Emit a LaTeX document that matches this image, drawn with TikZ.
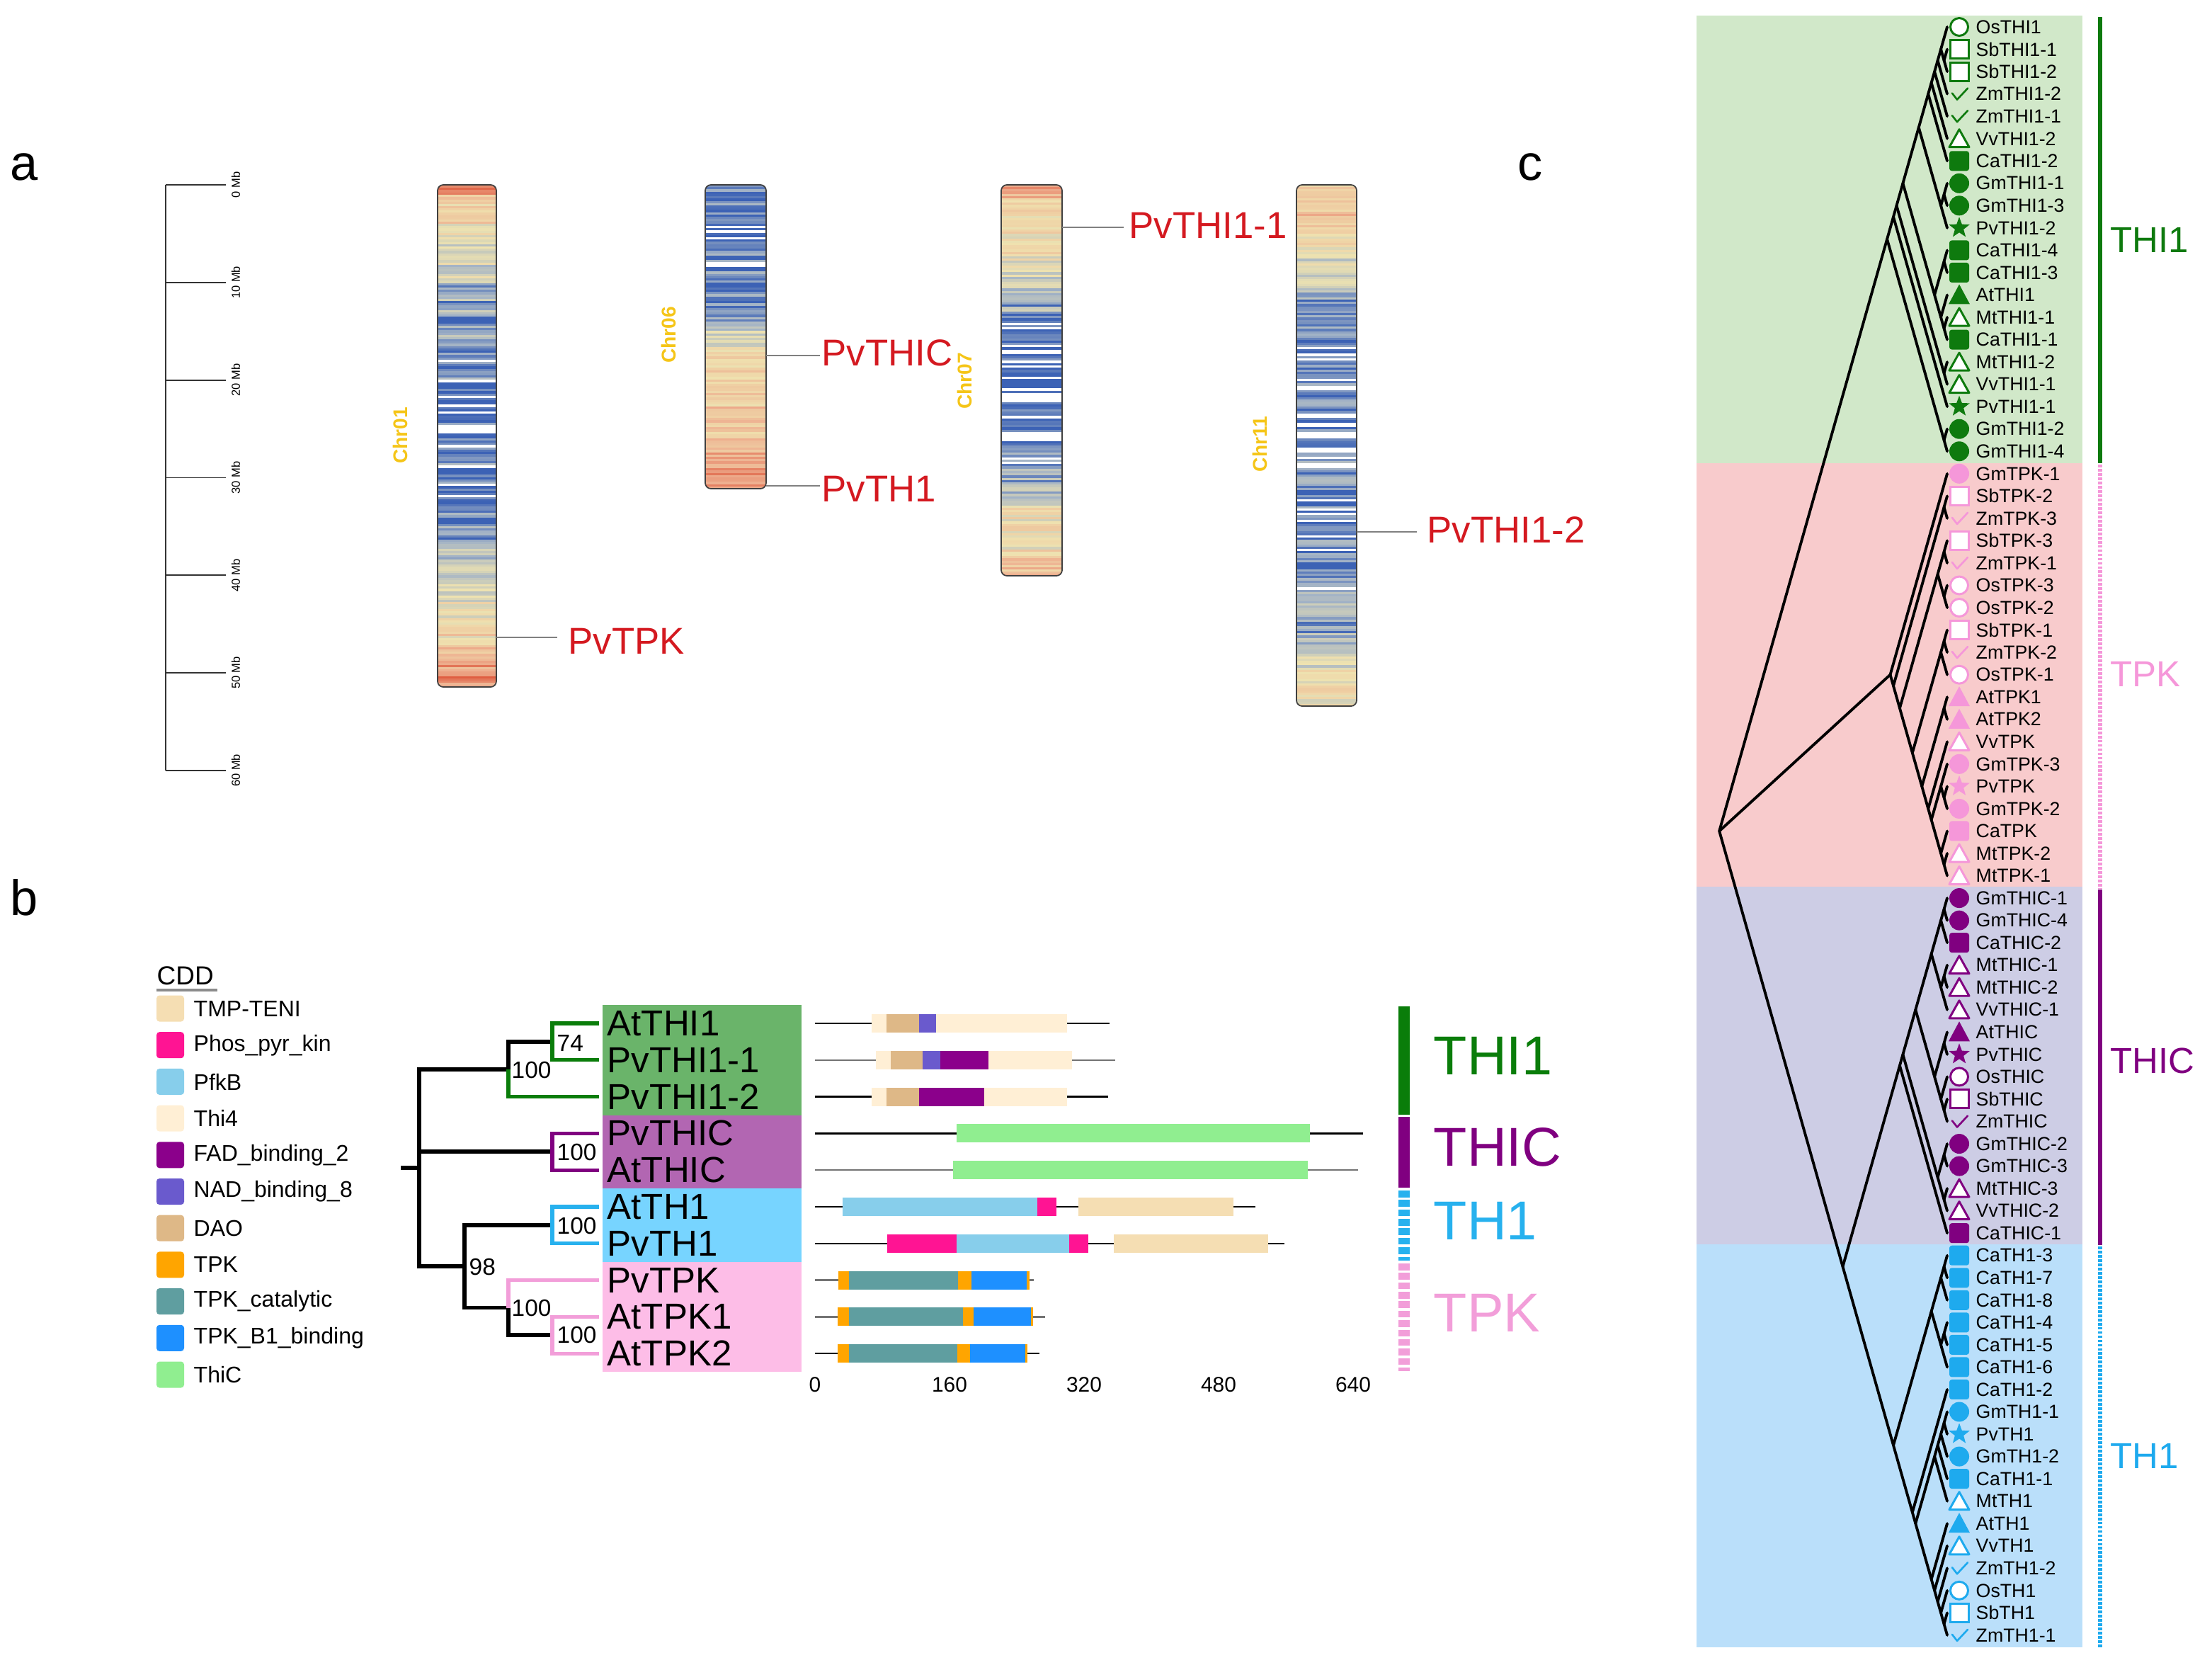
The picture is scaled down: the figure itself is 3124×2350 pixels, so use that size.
\documentclass[tikz,border=0pt]{standalone}
\usepackage{fontspec}
\setmainfont{Liberation Sans}
\usetikzlibrary{shapes.geometric}
% heat-map colours
\definecolor{cR}{HTML}{DE5A3E}
\definecolor{cO}{HTML}{EEB090}
\definecolor{cY}{HTML}{EFE3B0}
\definecolor{cG}{HTML}{A3B3C6}
\definecolor{cB}{HTML}{3C62B5}
\definecolor{geneRed}{HTML}{D41920}
\definecolor{chrGold}{HTML}{F5C518}
% domain colours
\definecolor{dTMP}{HTML}{F5DEB3}
\definecolor{dPhos}{HTML}{FF1493}
\definecolor{dPfk}{HTML}{87CEEB}
\definecolor{dThi}{HTML}{FFEFD5}
\definecolor{dFAD}{HTML}{8B008B}
\definecolor{dNAD}{HTML}{6A5ACD}
\definecolor{dDAO}{HTML}{DEB887}
\definecolor{dTPK}{HTML}{FFA500}
\definecolor{dCat}{HTML}{5F9EA0}
\definecolor{dBone}{HTML}{1E90FF}
\definecolor{dThiC}{HTML}{90EE90}
% panel b
\definecolor{bgG}{HTML}{6AB46A}
\definecolor{bgP}{HTML}{B266B2}
\definecolor{bgB}{HTML}{77D4FF}
\definecolor{bgK}{HTML}{FDBDE7}
\definecolor{trG}{HTML}{0A7D0A}
\definecolor{trP}{HTML}{800080}
\definecolor{trB}{HTML}{27B1EE}
\definecolor{trK}{HTML}{F29ED9}
% panel c
\definecolor{bandG}{HTML}{D1E8C9}
\definecolor{bandK}{HTML}{F8CBCC}
\definecolor{bandP}{HTML}{CDCDE5}
\definecolor{bandB}{HTML}{BADFFA}
\definecolor{sG}{HTML}{0E7A0E}
\definecolor{sK}{HTML}{F597D9}
\definecolor{sP}{HTML}{800080}
\definecolor{sB}{HTML}{1EAAEE}

\newcommand\fsz[1]{\fontsize{#1}{#1}\selectfont}

\newcommand\pickcol[1]{%
  \pgfmathsetmacro\vv{#1}%
  \ifdim\vv pt>0.93pt\relax
    \colorlet{sc}{white}%
  \else\ifdim\vv pt>0.75pt\relax
    \pgfmathsetmacro\pp{min(100,(\vv-0.75)*833)}\colorlet{sc}{cB!\pp!cG}%
  \else\ifdim\vv pt>0.5pt\relax
    \pgfmathsetmacro\pp{(\vv-0.5)*400}\colorlet{sc}{cG!\pp!cY}%
  \else\ifdim\vv pt>0.25pt\relax
    \pgfmathsetmacro\pp{(\vv-0.25)*400}\colorlet{sc}{cY!\pp!cO}%
  \else\ifdim\vv pt>0pt\relax
    \pgfmathsetmacro\pp{\vv*400}\colorlet{sc}{cO!\pp!cR}%
  \else
    \colorlet{sc}{cR}%
  \fi\fi\fi\fi\fi}

\newcommand\drawchrom[6]{%
  \begin{scope}
    \clip[rounded corners=2.3pt] (#1,#3) rectangle (#2,#4);
    \foreach \ta/\tb/\va/\vb in {#5}{
      \pgfmathsetmacro\ya{#3+\ta*(#4-#3)}
      \pgfmathsetmacro\yb{#3+\tb*(#4-#3)}
      \pgfmathtruncatemacro\nn{max(1,round((\yb-\ya)/3.2))}
      \foreach \k in {1,...,\nn}{
        \pgfmathsetmacro\yy{\ya+(\k-1)/\nn*(\yb-\ya)}
        \pgfmathsetmacro\nz{mod(\k*0.6180339+\k*0.0731*\k+\ya*0.01737+#6*0.1237,1)}
        \pgfmathsetmacro\nw{mod(\k*0.4142136+\k*0.0193*\k+#6*0.377,1)}
        \pgfmathsetmacro\vx{\va+(\vb-\va)*(\k-0.5)/\nn+0.22*(\nz-0.5)+0.16*(\nw-0.5)}
        \pickcol{\vx}
        \fill[sc] (#1,\yy) rectangle (#2,\yy+3.8);
      }
    }
  \end{scope}
  \draw[line width=0.5pt, black!75, rounded corners=2.3pt] (#1,#3) rectangle (#2,#4);
}

% panel c symbols
\newcommand\symos[2]{\draw[#1, fill=white, line width=0.85pt] (2767,#2) circle[radius=12.5];}
\newcommand\symgm[2]{\fill[#1] (2767,#2) circle[radius=14];}
\newcommand\symsb[2]{\draw[#1, fill=white, line width=0.85pt] (2754,#2-13) rectangle (2780,#2+13);}
\newcommand\symca[2]{\fill[#1, rounded corners=1pt] (2753,#2-14) rectangle (2781,#2+14);}
\newcommand\symvv[2]{\draw[#1, fill=white, line width=0.85pt, line join=round] (2753,#2+12) -- (2781,#2+12) -- (2767,#2-13) -- cycle;}
\newcommand\symmt[2]{\symvv{#1}{#2}}
\newcommand\symat[2]{\fill[#1] (2752,#2+13) -- (2782,#2+13) -- (2767,#2-15) -- cycle;}
\newcommand\sympv[2]{\node[star, star points=5, star point ratio=2.4, fill=#1, inner sep=0pt, minimum size=0.31cm] at (2767,#2) {};}
\newcommand\symzm[2]{\draw[#1, line width=0.75pt, line cap=round, line join=round] (2757,#2-1) -- (2764,#2+8) -- (2779,#2-8);}

\tikzset{
  tline/.style={line width=1.1pt, black, line cap=round},
  btree/.style={line width=1.45pt},
  conn/.style={line width=0.55pt, black!50},
  genelab/.style={anchor=west, inner sep=0pt, text=geneRed, font=\fsz{15}},
  chrlab/.style={rotate=90, text=chrGold, font=\bfseries\fsz{8}, inner sep=0pt},
  leaflab/.style={anchor=west, inner sep=0pt, font=\fsz{7.6}},
  blab/.style={anchor=west, inner sep=0pt, font=\fsz{14.5}},
  boot/.style={anchor=west, inner sep=0pt, font=\fsz{9.5}},
  legtxt/.style={anchor=west, inner sep=0pt, font=\fsz{9.1}},
  axlab/.style={inner sep=0pt, font=\fsz{8.5}},
  grpb/.style={anchor=west, inner sep=0pt, font=\fsz{22}},
  grpc/.style={anchor=west, inner sep=0pt, font=\fsz{14.5}},
  plet/.style={inner sep=0pt, font=\fsz{20}}
}

\begin{document}
\begin{tikzpicture}[x=0.01cm,y=-0.01cm]
\useasboundingbox (0,0) rectangle (3124,2350);

% ---------------- panel letters
\node[plet] (la) at (34,236) {a};
\node[plet] (lb) at (34,1267) {b};
\node[plet] (lc) at (2161,236) {c};

% ---------------- panel a : scale bar
\draw[line width=0.5pt, black!80] (234,261) -- (234,1088);
\foreach \i/\t in {0/0,1/10,2/20,3/30,4/40,5/50,6/60}{
  \draw[line width=0.5pt, black!80] (234,{261+137.8*\i}) -- (319,{261+137.8*\i});
  \node[rotate=90, inner sep=0pt, font=\fsz{4.7}] (mb\i) at (333,{261+137.8*\i}) {\t\ Mb};
}

% ---------------- chromosomes
\drawchrom{618}{701}{261}{970}{0/0.02/0.12/0.18, 0.02/0.1/0.36/0.45, 0.1/0.2/0.52/0.64, 0.2/0.33/0.72/0.82, 0.33/0.42/0.84/0.86, 0.42/0.5/0.9/0.9, 0.5/0.6/0.84/0.84, 0.6/0.72/0.82/0.78, 0.72/0.84/0.72/0.56, 0.84/0.93/0.48/0.35, 0.93/1/0.3/0.12}{1}
\drawchrom{996}{1082}{261}{690}{0/0.3/0.85/0.84, 0.3/0.45/0.82/0.76, 0.45/0.55/0.7/0.52, 0.55/0.85/0.45/0.35, 0.85/1/0.32/0.14}{2}
\drawchrom{1414}{1500}{261}{813}{0/0.04/0.2/0.3, 0.04/0.2/0.38/0.5, 0.2/0.33/0.55/0.72, 0.33/0.45/0.84/0.86, 0.45/0.55/0.89/0.88, 0.55/0.72/0.85/0.84, 0.72/0.82/0.78/0.62, 0.82/0.95/0.52/0.42, 0.95/1/0.35/0.25}{3}
\drawchrom{1831}{1916}{261}{997}{0/0.12/0.34/0.46, 0.12/0.22/0.55/0.72, 0.22/0.35/0.8/0.86, 0.35/0.5/0.88/0.89, 0.5/0.75/0.87/0.85, 0.75/0.9/0.82/0.7, 0.9/1/0.6/0.5}{4}

\node[chrlab] (c01) at (565,615) {Chr01};
\node[chrlab] (c06) at (944,473) {Chr06};
\node[chrlab] (c07) at (1362,538) {Chr07};
\node[chrlab] (c11) at (1779,627) {Chr11};

% gene labels
\coordinate (gTPKa) at (701,900);   \node[genelab] (gTPK) at (802,905) {PvTPK};
\coordinate (gTHICa) at (1082,502); \node[genelab] (gTHIC) at (1160,498) {PvTHIC};
\coordinate (gTHa) at (1082,686);   \node[genelab] (gTH) at (1160,690) {PvTH1};
\coordinate (gT11a) at (1500,321);  \node[genelab] (gT11) at (1594,318) {PvTHI1-1};
\coordinate (gT12a) at (1916,751);  \node[genelab] (gT12) at (2015,748) {PvTHI1-2};
\draw[conn] (gTPKa) -- (787,900);
\draw[conn] (gTHICa) -- (1158,502);
\draw[conn] (gTHa) -- (1158,686);
\draw[conn] (gT11a) -- (1587,321);
\draw[conn] (gT12a) -- (2001,751);

% ---------------- panel b : legend
\node[anchor=west, inner sep=0pt, font=\fsz{10.5}] (cdd) at (221,1378) {CDD};
\draw[line width=0.9pt, black!45] (221,1398) -- (307,1398);
\foreach \k/\col/\txt in {0/dTMP/TMP-TENI, 1/dPhos/Phos\_pyr\_kin, 2/dPfk/PfkB, 3/dThi/Thi4, 4/dFAD/FAD\_binding\_2, 5/dNAD/NAD\_binding\_8, 6/dDAO/DAO, 7/dTPK/TPK, 8/dCat/TPK\_catalytic, 9/dBone/TPK\_B1\_binding, 10/dThiC/ThiC}{
  \fill[\col, rounded corners=1.2pt] (221,{1424+51.7*\k-18.5}) rectangle (260,{1424+51.7*\k+18.5});
  \node[legtxt] (leg\k) at (273,{1424+51.7*\k}) {\txt};
}

% ---------------- panel b : label blocks
\fill[bgG] (851,1419) rectangle (1132,1574.5);
\fill[bgP] (851,1574.5) rectangle (1132,1678);
\fill[bgB] (851,1678) rectangle (1132,1781.6);
\fill[bgK] (851,1781.6) rectangle (1132,1937);
\foreach \i/\txt in {0/AtTHI1,1/PvTHI1-1,2/PvTHI1-2,3/PvTHIC,4/AtTHIC,5/AtTH1,6/PvTH1,7/PvTPK,8/AtTPK1,9/AtTPK2}{
  \node[blab] (bt\i) at (857,{1445+51.8*\i}) {\txt};
  \coordinate (bl\i) at (846,{1445+51.8*\i});
}

% ---------------- panel b : tree
\coordinate (bS) at (566,1649);
\coordinate (bR) at (592,1649);
\coordinate (bA) at (718,1510);
\coordinate (bA1) at (780,1471);
\coordinate (bC) at (780,1626);
\coordinate (bD) at (656,1788);
\coordinate (bE) at (780,1730);
\coordinate (bF) at (718,1846.5);
\coordinate (bF1) at (780,1885);
\draw[btree] (bS) -- (bR);
\draw[btree] (bR) |- (bA);
\draw[btree] (bR) |- (bC);
\draw[btree] (bR) |- (bD);
\draw[btree] (bA) |- (bA1);
\draw[btree, trG] (bA) |- (bl2);
\draw[btree, trG] (bA1) |- (bl0);
\draw[btree, trG] (bA1) |- (bl1);
\draw[btree, trP] (bC) |- (bl3);
\draw[btree, trP] (bC) |- (bl4);
\draw[btree] (bD) |- (bE);
\draw[btree] (bD) |- (bF);
\draw[btree, trB] (bE) |- (bl5);
\draw[btree, trB] (bE) |- (bl6);
\draw[btree, trK] (bF) |- (bl7);
\draw[btree] (bF) |- (bF1);
\draw[btree, trK] (bF1) |- (bl8);
\draw[btree, trK] (bF1) |- (bl9);
\node[boot] (bs1) at (786,1473) {74};
\node[boot] (bs2) at (722,1511) {100};
\node[boot] (bs3) at (786,1627) {100};
\node[boot] (bs4) at (786,1731) {100};
\node[boot] (bs5) at (662,1789) {98};
\node[boot] (bs6) at (722,1847) {100};
\node[boot] (bs7) at (786,1885) {100};

% ---------------- panel b : domains
\newcommand\dm[4]{\fill[#4] ({1151+#1*1.1875},{#3-13}) rectangle ({1151+#2*1.1875},{#3+13});}
\newcommand\bb[3]{\draw[line width=0.7pt, #3] (1151,#2) -- ({1151+#1*1.1875},#2);}
% row 0 AtTHI1
\bb{350}{1445}{black}\dm{67}{300}{1445}{dThi}\dm{85}{124}{1445}{dDAO}\dm{124}{144}{1445}{dNAD}
% row 1 PvTHI1-1
\bb{357}{1496.8}{black!55}\dm{72}{306}{1496.8}{dThi}\dm{90}{128}{1496.8}{dDAO}\dm{128}{149}{1496.8}{dNAD}\dm{149}{206}{1496.8}{dFAD}
% row 2 PvTHI1-2
\bb{349}{1548.6}{black}\dm{67}{300}{1548.6}{dThi}\dm{85}{124}{1548.6}{dDAO}\dm{124}{201}{1548.6}{dFAD}
% row 3 PvTHIC
\bb{652}{1600.4}{black}\dm{168}{589}{1600.4}{dThiC}
% row 4 AtTHIC
\bb{646}{1652.2}{black!55}\dm{164}{586}{1652.2}{dThiC}
% row 5 AtTH1
\bb{524}{1704}{black}\dm{33}{264}{1704}{dPfk}\dm{264}{287}{1704}{dPhos}\dm{313}{498}{1704}{dTMP}
% row 6 PvTH1
\bb{558}{1755.8}{black}\dm{86}{168}{1755.8}{dPhos}\dm{168}{302}{1755.8}{dPfk}\dm{302}{325}{1755.8}{dPhos}\dm{355}{539}{1755.8}{dTMP}
% row 7 PvTPK
\bb{260}{1807.6}{black!55}\dm{28}{40}{1807.6}{dTPK}\dm{40}{170}{1807.6}{dCat}\dm{170}{186}{1807.6}{dTPK}\dm{186}{252}{1807.6}{dBone}\dm{252}{255}{1807.6}{dTPK}
% row 8 AtTPK1
\draw[line width=1.1pt, black!55] (1151,1859.4) -- ({1151+274*1.1875},1859.4);
\dm{27}{40}{1859.4}{dTPK}\dm{40}{176}{1859.4}{dCat}\dm{176}{189}{1859.4}{dTPK}\dm{189}{257}{1859.4}{dBone}\dm{257}{259}{1859.4}{dTPK}
% row 9 AtTPK2
\bb{267}{1911.2}{black}\dm{27}{40}{1911.2}{dTPK}\dm{40}{169}{1911.2}{dCat}\dm{169}{184}{1911.2}{dTPK}\dm{184}{250}{1911.2}{dBone}\dm{250}{253}{1911.2}{dTPK}
% axis labels
\foreach \v in {0,160,320,480,640}{
  \node[axlab] (ax\v) at ({1151+\v*1.1875},1955) {\v};
}

% ---------------- panel b : group bars and labels
\draw[trG, line width=4.5pt] (1983,1421) -- (1983,1574);
\draw[trP, line width=4.5pt] (1983,1577) -- (1983,1677);
\draw[trB, line width=4.5pt, dash pattern=on 2.7pt off 1.1pt] (1983,1681) -- (1983,1780);
\draw[trK, line width=4.5pt, dash pattern=on 2.7pt off 1.1pt] (1983,1784) -- (1983,1936);
\node[grpb, text=trG] (gb1) at (2024,1491) {THI1};
\node[grpb, text=trP] (gb2) at (2024,1620) {THIC};
\node[grpb, text=trB] (gb3) at (2024,1724) {TH1};
\node[grpb, text=trK] (gb4) at (2024,1854) {TPK};

% ---------------- panel c : bands
\fill[bandG] (2396,22.2) rectangle (2941,653.5);
\fill[bandK] (2396,653.5) rectangle (2941,1252.4);
\fill[bandP] (2396,1252.4) rectangle (2941,1757);
\fill[bandB] (2396,1757) rectangle (2941,2325.7);

% ---------------- panel c : tree (slanted cladogram)
\foreach \pa/\pb/\ca/\cb in {0/72/0/19, 0/72/20/38, 0/72/39/72,
 0/19/0/17, 0/19/18/19, 18/19/18/18, 18/19/19/19,
 0/17/0/16, 0/17/17/17,
 0/16/0/14, 0/16/15/16, 15/16/15/15, 15/16/16/16,
 0/14/0/9, 0/14/10/14,
 10/14/10/11, 10/14/12/14, 10/11/10/10, 10/11/11/11, 12/14/12/12, 12/14/13/14, 13/14/13/13, 13/14/14/14,
 0/9/0/6, 0/9/7/9, 7/9/7/8, 7/9/9/9, 7/8/7/7, 7/8/8/8,
 0/6/0/5, 0/6/6/6, 0/5/0/4, 0/5/5/5, 0/4/0/3, 0/4/4/4, 0/3/0/2, 0/3/3/3, 0/2/0/0, 0/2/1/2, 1/2/1/1, 1/2/2/2,
 20/38/20/20, 20/38/21/38, 21/38/21/22, 21/38/23/38, 21/22/21/21, 21/22/22/22,
 23/38/23/26, 23/38/27/38, 23/26/23/24, 23/26/25/26, 23/24/23/23, 23/24/24/24, 25/26/25/25, 25/26/26/26,
 27/38/27/29, 27/38/30/38, 27/29/27/28, 27/29/29/29, 27/28/27/27, 27/28/28/28,
 30/38/30/31, 30/38/32/38, 30/31/30/30, 30/31/31/31,
 32/38/32/32, 32/38/33/38, 33/38/33/35, 33/38/36/38, 33/35/33/33, 33/35/34/35, 34/35/34/34, 34/35/35/35,
 36/38/36/36, 36/38/37/38, 37/38/37/37, 37/38/38/38,
 39/72/39/54, 39/72/55/72,
 39/54/39/53, 39/54/54/54, 39/53/39/49, 39/53/50/53, 50/53/50/51, 50/53/52/53, 50/51/50/50, 50/51/51/51, 52/53/52/52, 52/53/53/53,
 39/49/39/44, 39/49/45/49, 39/44/39/41, 39/44/42/44, 39/41/39/40, 39/41/41/41, 39/40/39/39, 39/40/40/40, 42/44/42/43, 42/44/44/44, 42/43/42/42, 42/43/43/43,
 45/49/45/46, 45/49/47/49, 45/46/45/45, 45/46/46/46, 47/49/47/47, 47/49/48/49, 48/49/48/48, 48/49/49/49,
 55/72/55/60, 55/72/61/72, 55/60/55/57, 55/60/58/60, 55/57/55/56, 55/57/57/57, 55/56/55/55, 55/56/56/56, 58/60/58/59, 58/60/60/60, 58/59/58/58, 58/59/59/59,
 61/72/61/61, 61/72/62/72, 62/72/62/66, 62/72/67/72, 62/66/62/65, 62/66/66/66, 62/65/62/64, 62/65/65/65, 62/64/62/63, 62/64/64/64, 62/63/62/62, 62/63/63/63,
 67/72/67/67, 67/72/68/72, 68/72/68/68, 68/72/69/72, 69/72/69/69, 69/72/70/72, 70/72/70/70, 70/72/71/72, 71/72/71/71, 71/72/72/72}{
  \coordinate (N\pa-\pb) at ({2750-(\pb-\pa)*4.47},{38+15.77*(\pa+\pb)});
  \coordinate (N\ca-\cb) at ({2750-(\cb-\ca)*4.47},{38+15.77*(\ca+\cb)});
  \draw[tline] (N\pa-\pb) -- (N\ca-\cb);
}

% ---------------- panel c : leaves
\foreach \i/\spc/\lab in {0/os/OsTHI1, 1/sb/SbTHI1-1, 2/sb/SbTHI1-2, 3/zm/ZmTHI1-2, 4/zm/ZmTHI1-1, 5/vv/VvTHI1-2, 6/ca/CaTHI1-2, 7/gm/GmTHI1-1, 8/gm/GmTHI1-3, 9/pv/PvTHI1-2, 10/ca/CaTHI1-4, 11/ca/CaTHI1-3, 12/at/AtTHI1, 13/mt/MtTHI1-1, 14/ca/CaTHI1-1, 15/mt/MtTHI1-2, 16/vv/VvTHI1-1, 17/pv/PvTHI1-1, 18/gm/GmTHI1-2, 19/gm/GmTHI1-4,
 20/gm/GmTPK-1, 21/sb/SbTPK-2, 22/zm/ZmTPK-3, 23/sb/SbTPK-3, 24/zm/ZmTPK-1, 25/os/OsTPK-3, 26/os/OsTPK-2, 27/sb/SbTPK-1, 28/zm/ZmTPK-2, 29/os/OsTPK-1, 30/at/AtTPK1, 31/at/AtTPK2, 32/vv/VvTPK, 33/gm/GmTPK-3, 34/pv/PvTPK, 35/gm/GmTPK-2, 36/ca/CaTPK, 37/mt/MtTPK-2, 38/mt/MtTPK-1,
 39/gm/GmTHIC-1, 40/gm/GmTHIC-4, 41/ca/CaTHIC-2, 42/mt/MtTHIC-1, 43/mt/MtTHIC-2, 44/vv/VvTHIC-1, 45/at/AtTHIC, 46/pv/PvTHIC, 47/os/OsTHIC, 48/sb/SbTHIC, 49/zm/ZmTHIC, 50/gm/GmTHIC-2, 51/gm/GmTHIC-3, 52/mt/MtTHIC-3, 53/vv/VvTHIC-2, 54/ca/CaTHIC-1,
 55/ca/CaTH1-3, 56/ca/CaTH1-7, 57/ca/CaTH1-8, 58/ca/CaTH1-4, 59/ca/CaTH1-5, 60/ca/CaTH1-6, 61/ca/CaTH1-2, 62/gm/GmTH1-1, 63/pv/PvTH1, 64/gm/GmTH1-2, 65/ca/CaTH1-1, 66/mt/MtTH1, 67/at/AtTH1, 68/vv/VvTH1, 69/zm/ZmTH1-2, 70/os/OsTH1, 71/sb/SbTH1, 72/zm/ZmTH1-1}{
  \pgfmathsetmacro\yy{38+31.54*\i}
  \ifnum\i<20 \def\cc{sG}\else\ifnum\i<39 \def\cc{sK}\else\ifnum\i<55 \def\cc{sP}\else\def\cc{sB}\fi\fi\fi
  \csname sym\spc\endcsname{\cc}{\yy}
  \node[leaflab] (leaf\i) at (2790,\yy) {\lab};
}

% ---------------- panel c : group bars and labels
\draw[sG, line width=1.7pt] (2966,24) -- (2966,654);
\draw[sK, line width=1.7pt, dash pattern=on 1.1pt off 0.6pt] (2966,656) -- (2966,1254);
\draw[sP, line width=1.7pt] (2966,1256) -- (2966,1758);
\draw[sB, line width=1.7pt, dash pattern=on 1.1pt off 0.6pt] (2966,1760) -- (2966,2326);
\node[grpc, text=sG] (gc1) at (2980,339) {THI1};
\node[grpc, text=sK] (gc2) at (2980,952) {TPK};
\node[grpc, text=sP] (gc3) at (2980,1498) {THIC};
\node[grpc, text=sB] (gc4) at (2980,2056) {TH1};
\end{tikzpicture}
\end{document}
